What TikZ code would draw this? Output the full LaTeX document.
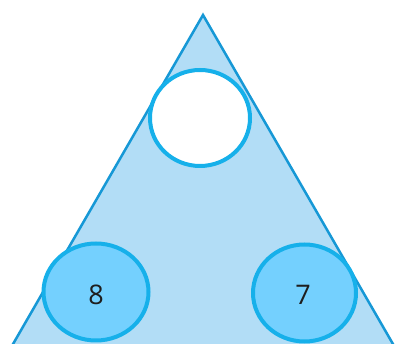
\documentclass[tikz,border=0pt]{standalone}
\usepackage{fontspec}
\setmainfont{Open Sans}
\usetikzlibrary{shapes.geometric}
\definecolor{trifill}{RGB}{178,221,246}
\definecolor{triline}{RGB}{22,152,214}
\definecolor{circfill}{RGB}{116,208,254}
\definecolor{circline}{RGB}{22,176,234}
\definecolor{txt}{RGB}{30,30,30}
\tikzset{
  numcirc/.style={ellipse, draw=circline, line width=4pt, fill=circfill, inner sep=0pt,
    text=txt, font=\fontsize{27}{27}\selectfont},
  blankcirc/.style={numcirc, fill=white}
}
\begin{document}
\begin{tikzpicture}[x=1pt,y=1pt]
\useasboundingbox (0,0) rectangle (398,344);
\fill[white] (0,0) rectangle (398,344);
\begin{scope}
\clip (0,0) rectangle (398,344);
\coordinate (apex) at (203,329);
\coordinate (bl) at (1.5,-20);
\coordinate (br) at (404.5,-20);
\draw[fill=trifill, draw=triline, line width=2.5pt, line join=miter] (bl) -- (apex) -- (br);
\node[blankcirc, minimum width=100pt, minimum height=96pt] (top) at (200,226) {};
\node[numcirc, minimum width=105pt, minimum height=97pt] (left) at (96,52) {};
\node[numcirc, minimum width=103pt, minimum height=97pt] (right) at (304.5,51) {};
\node[text=txt, font=\fontsize{27}{27}\selectfont, inner sep=0pt] (l8) at (96,49) {8};
\node[text=txt, font=\fontsize{27}{27}\selectfont, inner sep=0pt] (r7) at (303,49) {7};
\end{scope}
\end{tikzpicture}
\end{document}
